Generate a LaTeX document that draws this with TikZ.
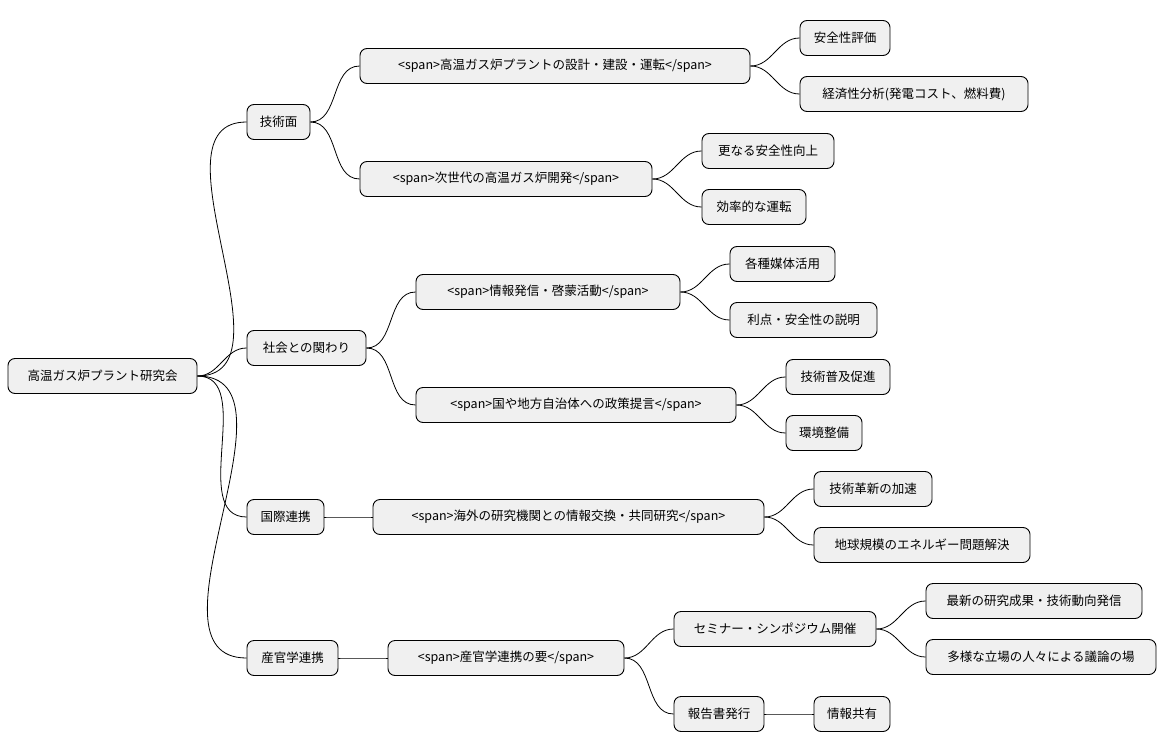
\documentclass[tikz,border=0pt]{standalone}
\usepackage{fontspec}
\setmainfont{Noto Sans CJK JP}
\begin{document}
\begin{tikzpicture}[x=1pt,y=-1pt,
  box/.style={draw=black,line width=0.9pt,fill=black!6,rounded corners=7pt,minimum height=35pt,inner sep=0pt,font=\fontsize{12.5}{14}\selectfont},
  edge/.style={draw=black,line width=0.8pt}]
\useasboundingbox (0,0) rectangle (1167,752);
\newcommand\nd[5]{\node[box,minimum width={#3-#2}] (#1) at ({(#2+#3)/2},#4) {#5};}
\nd{r}{8}{197}{376}{高温ガス炉プラント研究会}
\nd{a}{247}{310}{122}{技術面}
\nd{a1}{360}{750}{66}{<span>高温ガス炉プラントの設計・建設・運転</span>}
\nd{a11}{800}{890}{38}{安全性評価}
\nd{a12}{800}{1028}{94}{経済性分析(発電コスト、燃料費)}
\nd{a2}{360}{652}{179}{<span>次世代の高温ガス炉開発</span>}
\nd{a21}{702}{834}{151}{更なる安全性向上}
\nd{a22}{702}{806}{207}{効率的な運転}
\nd{b}{247}{366}{348}{社会との関わり}
\nd{b1}{416}{680}{292}{<span>情報発信・啓蒙活動</span>}
\nd{b11}{730}{835}{264}{各種媒体活用}
\nd{b12}{730}{877}{320}{利点・安全性の説明}
\nd{b2}{416}{736}{405}{<span>国や地方自治体への政策提言</span>}
\nd{b21}{786}{890}{377}{技術普及促進}
\nd{b22}{786}{862}{433}{環境整備}
\nd{c}{247}{324}{517}{国際連携}
\nd{c1}{373}{764}{517}{<span>海外の研究機関との情報交換・共同研究</span>}
\nd{c11}{814}{932}{489}{技術革新の加速}
\nd{c12}{814}{1030}{545}{地球規模のエネルギー問題解決}
\nd{d}{247}{338}{658}{産官学連携}
\nd{d1}{388}{624}{658}{<span>産官学連携の要</span>}
\nd{d11}{674}{876}{629}{セミナー・シンポジウム開催}
\nd{d111}{926}{1142}{601}{最新の研究成果・技術動向発信}
\nd{d112}{926}{1156}{657}{多様な立場の人々による議論の場}
\nd{d12}{674}{764}{714}{報告書発行}
\nd{d121}{814}{890}{714}{情報共有}
\foreach \p/\c in {r/a,r/b,r/c,r/d,a/a1,a/a2,a1/a11,a1/a12,a2/a21,a2/a22,b/b1,b/b2,b1/b11,b1/b12,b2/b21,b2/b22,c/c1,c1/c11,c1/c12,d/d1,d1/d11,d1/d12,d11/d111,d11/d112,d12/d121}
  \draw[edge] (\p.east) to[out=0,in=180] (\c.west);
\end{tikzpicture}
\end{document}
